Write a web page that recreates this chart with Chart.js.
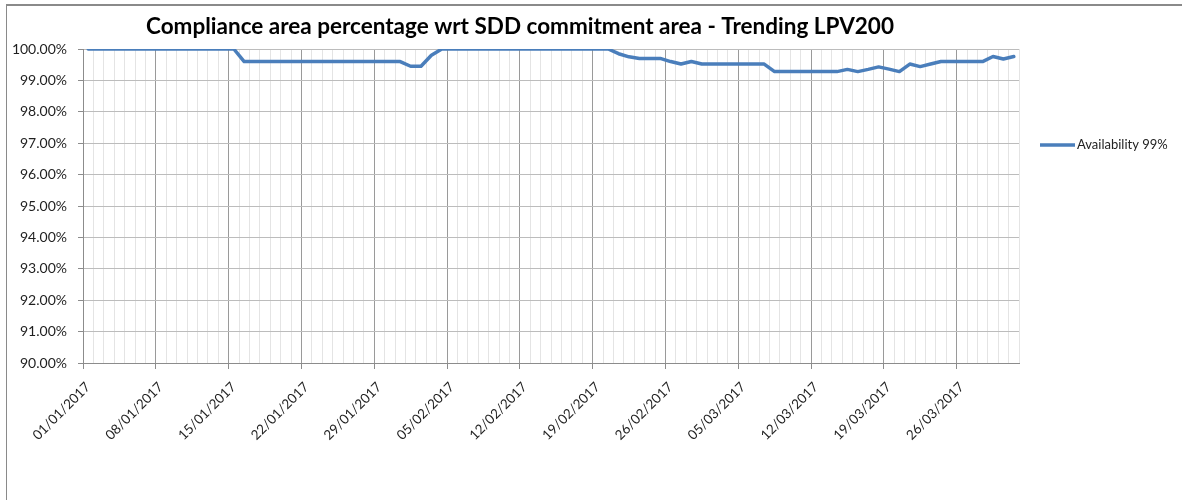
<!DOCTYPE html>
<html>
<head>
<meta charset="utf-8">
<title>Compliance area percentage - Trending LPV200</title>
<script src="https://cdn.jsdelivr.net/npm/chart.js@4.4.1/dist/chart.umd.min.js"></script>
<style>
    html, body { margin: 0; padding: 0; background: #fff; overflow: hidden; }
    #wrap { position: relative; width: 1182px; height: 500px; }
    #frame {
        position: absolute; left: 6px; top: 4px; width: 1300px; height: 600px;
        border-left: 1px solid #8a8a8a; border-top: 2px solid #8a8a8a;
        pointer-events: none;
    }
</style>
</head>
<body>
<div id="wrap">
    <canvas id="myChart" width="1182" height="500"></canvas>
    <div id="frame"></div>
</div>
<script>
const chartTitle = 'Compliance area percentage wrt SDD commitment area - Trending LPV200';
const seriesName = 'Availability 99%';

// one label every 7 days, first one is 01/01/2017
const tickLabels = ['01/01/2017', '08/01/2017', '15/01/2017', '22/01/2017', '29/01/2017',
    '05/02/2017', '12/02/2017', '19/02/2017', '26/02/2017', '05/03/2017',
    '12/03/2017', '19/03/2017', '26/03/2017'];
const dayCount = 90; // 01/01/2017 .. 31/03/2017

// daily values (%)
const availability = [
    100, 100, 100, 100, 100, 100, 100, 100, 100, 100, 100, 100, 100, 100, 100,
    99.6, 99.6, 99.6, 99.6, 99.6, 99.6, 99.6, 99.6, 99.6, 99.6, 99.6, 99.6, 99.6, 99.6, 99.6, 99.6,
    99.45, 99.45, 99.8,
    100, 100, 100, 100, 100, 100, 100, 100, 100, 100, 100, 100, 100, 100, 100, 100, 100,
    99.85, 99.75, 99.7, 99.7, 99.7, 99.6, 99.52, 99.6,
    99.52, 99.52, 99.52, 99.52, 99.52, 99.52, 99.52,
    99.28, 99.28, 99.28, 99.28, 99.28, 99.28, 99.28,
    99.35, 99.28, 99.35, 99.43, 99.36, 99.28, 99.52, 99.44, 99.52,
    99.6, 99.6, 99.6, 99.6, 99.6,
    99.76, 99.68, 99.76
];

const yMin = 90;
const yMax = 100;
const lineColor = '#4a7ebb';

// title + legend drawn by hand to sit like the Excel original
const decorations = {
    id: 'decorations',
    afterDraw(chart) {
        const ctx = chart.ctx;
        const area = chart.chartArea;
        ctx.save();
        ctx.fillStyle = '#000';
        ctx.font = 'bold 22.5px Lato';
        ctx.textAlign = 'center';
        ctx.textBaseline = 'middle';
        ctx.fillText(chartTitle, 520, 27);

        const ly = area.top + 96;
        const lx = area.right + 21;
        ctx.strokeStyle = lineColor;
        ctx.lineWidth = 3.5;
        ctx.beginPath();
        ctx.moveTo(lx, ly);
        ctx.lineTo(lx + 35, ly);
        ctx.stroke();
        ctx.fillStyle = '#222';
        ctx.font = '13px Lato';
        ctx.textAlign = 'left';
        ctx.fillText(chart.data.datasets[0].label, lx + 37, ly);
        ctx.restore();
    }
};

const ctx = document.getElementById('myChart').getContext('2d');
const myChart = new Chart(ctx, {
    type: 'line',
    data: {
        datasets: [{
            label: seriesName,
            data: availability.map((v, i) => ({ x: i + 0.5, y: v })),
            borderColor: lineColor,
            borderWidth: 3.5,
            borderJoinStyle: 'round',
            borderCapStyle: 'round',
            pointRadius: 0,
            tension: 0,
            fill: false
        }]
    },
    options: {
        responsive: false,
        animation: false,
        layout: { padding: { top: 49, right: 163, bottom: 0, left: 0 } },
        plugins: {
            legend: { display: false },
            title: { display: false },
            tooltip: { enabled: false }
        },
        scales: {
            x: {
                type: 'linear',
                min: 0,
                max: dayCount,
                afterFit: scale => { scale.height = 137; },
                ticks: {
                    stepSize: 1,
                    autoSkip: false,
                    minRotation: 45,
                    maxRotation: 45,
                    padding: 10,
                    labelOffset: 5,
                    color: '#1f1f1f',
                    font: { family: 'Lato', size: 13.5 },
                    callback: v => (v % 7 === 0 && tickLabels[v / 7]) ? tickLabels[v / 7] : ''
                },
                grid: {
                    color: c => (c.tick && c.tick.value % 7 === 0) ? '#9a9a9a' : '#e4e4e4',
                    tickColor: c => (c.tick && c.tick.value % 7 === 0 && c.tick.value < dayCount) ? '#8c8c8c' : 'rgba(0,0,0,0)',
                    tickLength: 6
                },
                border: { color: '#8c8c8c' }
            },
            y: {
                min: yMin,
                max: yMax,
                afterFit: scale => { scale.width = 83; },
                ticks: {
                    stepSize: 1,
                    padding: 11,
                    color: '#1f1f1f',
                    font: { family: 'Lato', size: 14 },
                    callback: v => v.toFixed(2) + '%'
                },
                grid: {
                    color: '#bcbcbc',
                    tickColor: '#8c8c8c',
                    tickLength: 5
                },
                border: { color: '#8c8c8c' }
            }
        }
    },
    plugins: [decorations]
});
</script>
</body>
</html>
